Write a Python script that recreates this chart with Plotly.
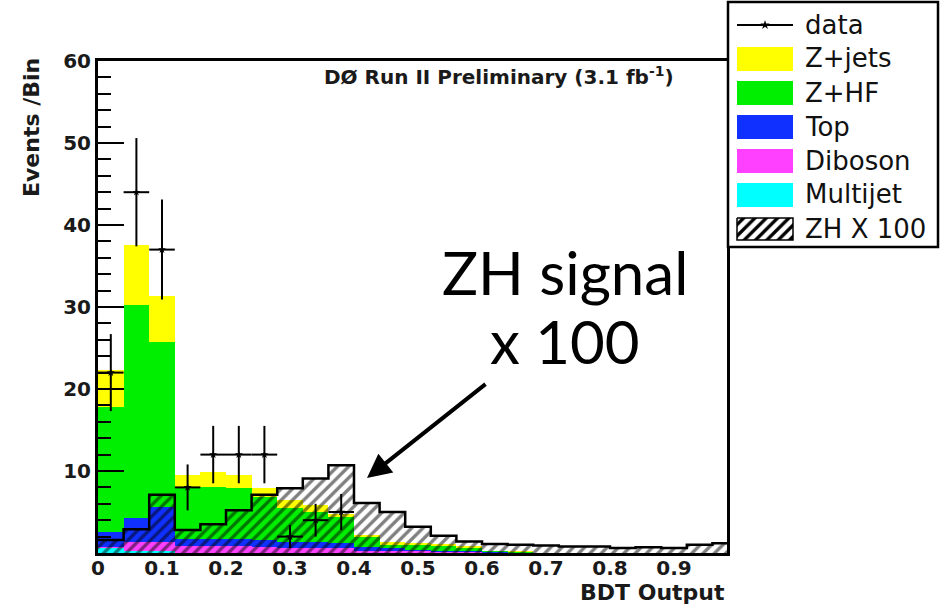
import numpy as np
import plotly.graph_objects as go

# ---------------- data ----------------
bin_edges = [0.00, 0.04, 0.08, 0.12, 0.16, 0.20, 0.24, 0.28, 0.32, 0.36, 0.40,
             0.44, 0.48, 0.52, 0.56, 0.60, 0.64, 0.68, 0.72, 0.76, 0.80,
             0.84, 0.88, 0.92, 0.96, 1.00]

multijet = [0.6, 0.3, 0.3, 0.05, 0.05, 0.05, 0.05, 0.05, 0.05, 0.05, 0, 0, 0,
            0, 0, 0, 0, 0, 0, 0, 0, 0, 0, 0, 0]
diboson = [0.1, 1.0, 1.0, 0.8, 0.8, 0.8, 0.7, 0.6, 0.6, 0.6, 0.3, 0.3, 0.2,
           0.1, 0.1, 0.05, 0, 0, 0, 0, 0, 0, 0, 0, 0]
top = [1.9, 3.0, 4.3, 0.8, 0.8, 0.8, 0.8, 0.7, 0.7, 0.6, 0.4, 0.3, 0.2,
       0.1, 0.1, 0.05, 0.05, 0, 0, 0, 0, 0, 0, 0, 0]
z_hf = [15.2, 25.9, 20.1, 6.45, 6.45, 6.25, 5.25, 4.15, 3.65, 3.15, 1.2, 0.4,
        0.6, 0.7, 0.4, 0.2, 0.1, 0.05, 0, 0, 0, 0, 0, 0, 0]
z_jets = [4.5, 7.4, 5.6, 1.4, 1.8, 1.6, 1.1, 1.0, 0.9, 0.4, 0.3, 0.4, 0.2,
          0.2, 0.2, 0.0, 0.05, 0, 0, 0, 0, 0, 0, 0, 0]
zh_x100 = [1.6, 2.9, 7.1, 2.8, 3.5, 5.2, 7.1, 7.9, 9.1, 10.7, 6.1, 5.0, 3.2,
           2.1, 1.4, 1.1, 1.0, 0.9, 0.8, 0.8, 0.6, 0.7, 0.6, 1.0, 1.2]
data_counts = [22, 44, 37, 8, 12, 12, 12, 2, 4, 5]
data_err = [4.7, 6.6, 6.1, 2.8, 3.5, 3.5, 3.5, 1.4, 2.0, 2.2]

x_tick_vals = [0, 0.1, 0.2, 0.3, 0.4, 0.5, 0.6, 0.7, 0.8, 0.9]
x_tick_text = ["0", "0.1", "0.2", "0.3", "0.4", "0.5", "0.6", "0.7", "0.8", "0.9"]
y_tick_vals = [0, 10, 20, 30, 40, 50, 60]
y_tick_text = ["", "10", "20", "30", "40", "50", "60"]
y_minor_vals = [2, 4, 6, 8, 12, 14, 16, 18, 22, 24, 26, 28, 32, 34, 36, 38,
                42, 44, 46, 48, 52, 54, 56, 58]

# ---------------- layout geometry ----------------
W, H = 944, 604
PL, PR, PT, PB = 98, 727, 61, 553
TICKFONT = dict(family="DejaVu Sans", size=20, color="#1a1a1a", weight="bold")

edges = np.array(bin_edges)
centers = (edges[:-1] + edges[1:]) / 2
widths = np.diff(edges)

fig = go.Figure()

components = [
    ("Multijet", multijet, "#00FFFF"),
    ("Diboson", diboson, "#FF40FF"),
    ("Top", top, "#1030FF"),
    ("Z+HF", z_hf, "#00EE00"),
    ("Z+jets", z_jets, "#FFFF00"),
]
base = np.zeros(len(centers))
for name, vals, col in components:
    v = np.array(vals, dtype=float)
    fig.add_trace(go.Bar(x=centers, y=v, base=base.copy(), width=widths,
                         marker=dict(color=col, line=dict(width=0)),
                         name=name, showlegend=False, xaxis="x", yaxis="y"))
    base += v

HATCH = dict(shape="/", fgcolor="black", size=8, solidity=0.42)

# signal x100 (hatched, transparent)
fig.add_trace(go.Bar(
    x=centers, y=zh_x100, width=widths, showlegend=False,
    marker=dict(color="rgba(0,0,0,0)", line=dict(width=0),
                pattern=dict(bgcolor="rgba(0,0,0,0)", fillmode="overlay", **HATCH)),
    xaxis="x", yaxis="y"))
fig.add_trace(go.Scatter(
    x=edges, y=list(zh_x100) + [zh_x100[-1]], mode="lines",
    line=dict(color="black", width=2.5, shape="hv"), showlegend=False,
    xaxis="x", yaxis="y"))

# data
nd = len(data_counts)
fig.add_trace(go.Scatter(
    x=centers[:nd], y=data_counts, mode="markers",
    marker=dict(symbol="star", size=6, color="black"),
    error_y=dict(type="data", array=data_err, thickness=2, width=0, color="black"),
    error_x=dict(type="data", array=widths[:nd] / 2, thickness=2, width=0, color="black"),
    showlegend=False, xaxis="x", yaxis="y"))

# ---------------- legend (pixel overlay axis) ----------------
LX0, LX1 = 737, 793
legend_rows = [
    ("Z+jets", "#FFFF00", 59),
    ("Z+HF", "#00EE00", 93),
    ("Top", "#1030FF", 127),
    ("Diboson", "#FF40FF", 161),
    ("Multijet", "#00FFFF", 195),
]
for name, col, yc in legend_rows:
    fig.add_trace(go.Scatter(
        x=[LX0, LX1, LX1, LX0, LX0], y=[yc - 12, yc - 12, yc + 12, yc + 12, yc - 12],
        mode="lines", fill="toself", fillcolor=col, line=dict(width=0, color=col),
        showlegend=False, hoverinfo="skip", xaxis="x2", yaxis="y2"))
yc = 229
fig.add_trace(go.Scatter(
    x=[LX0, LX1, LX1, LX0, LX0], y=[yc - 11, yc - 11, yc + 11, yc + 11, yc - 11],
    mode="lines", fill="toself", fillcolor="white",
    fillpattern=HATCH,
    line=dict(width=1.5, color="black"),
    showlegend=False, hoverinfo="skip", xaxis="x2", yaxis="y2"))
fig.add_trace(go.Scatter(
    x=[LX0, LX1], y=[25, 25], mode="lines", line=dict(color="black", width=2),
    showlegend=False, hoverinfo="skip", xaxis="x2", yaxis="y2"))
fig.add_trace(go.Scatter(
    x=[(LX0 + LX1) / 2], y=[25], mode="markers",
    marker=dict(symbol="star", size=7, color="black"),
    showlegend=False, hoverinfo="skip", xaxis="x2", yaxis="y2"))

legend_labels = [("data", 25), ("Z+jets", 58), ("Z+HF", 93), ("Top", 127),
                 ("Diboson", 161), ("Multijet", 194), ("ZH X 100", 229)]

annotations = []
for txt, yc in legend_labels:
    annotations.append(dict(x=803, y=yc, xref="x2", yref="y2", text=txt,
                            showarrow=False, xanchor="left", yanchor="middle",
                            font=dict(family="DejaVu Sans", size=26, color="#111")))

annotations += [
    dict(x=499, y=76, xref="x2", yref="y2",
         text="DØ Run II Preliminary (3.1 fb<sup>-1</sup>)", showarrow=False,
         xanchor="center", yanchor="middle",
         font=dict(family="DejaVu Sans", size=20, color="#1a1a1a", weight="bold")),
    dict(x=727, y=592, xref="x2", yref="y2", text="BDT Output", showarrow=False,
         xanchor="right", yanchor="middle",
         font=dict(family="DejaVu Sans", size=22, color="#1a1a1a", weight="bold")),
    dict(x=31, y=128, xref="x2", yref="y2", text="Events /Bin", showarrow=False,
         textangle=-90, xanchor="center", yanchor="middle",
         font=dict(family="DejaVu Sans", size=22, color="#1a1a1a", weight="bold")),
    dict(x=440, y=272, xref="x2", yref="y2", text="ZH signal", showarrow=False,
         xanchor="left", yanchor="middle",
         font=dict(family="Lato", size=60, color="black")),
    dict(x=488, y=341, xref="x2", yref="y2", text="x 100", showarrow=False,
         xanchor="left", yanchor="middle",
         font=dict(family="Lato", size=60, color="black")),
    dict(x=367, y=478, xref="x2", yref="y2", ax=487, ay=383, axref="x2", ayref="y2",
         text="", showarrow=True, arrowhead=2, arrowsize=1.2, arrowwidth=4,
         arrowcolor="black"),
]

shapes = [dict(type="rect", xref="x2", yref="y2", x0=728, x1=938, y0=2, y1=247,
               line=dict(color="black", width=2.5), fillcolor="white", layer="below")]

fig.update_layout(
    width=W, height=H, template="none",
    margin=dict(l=0, r=0, t=0, b=0, pad=0),
    paper_bgcolor="white", plot_bgcolor="rgba(0,0,0,0)",
    barmode="overlay", bargap=0, showlegend=False,
    xaxis=dict(domain=[PL / W, PR / W], range=[0, (PR - PL) / 640.0], anchor="y",
               showline=True, linewidth=3, linecolor="black", mirror=True,
               ticks="", ticklen=0, ticklabelstandoff=-5,
               tickmode="array", tickvals=x_tick_vals, ticktext=x_tick_text,
               tickfont=TICKFONT, showgrid=False, zeroline=False, fixedrange=True),
    yaxis=dict(domain=[1 - PB / H, 1 - PT / H], range=[0, 60], anchor="x",
               showline=True, linewidth=3, linecolor="black", mirror=True,
               ticks="inside", ticklen=26, tickwidth=2, tickcolor="black",
               tickmode="array", tickvals=y_tick_vals, ticktext=y_tick_text,
               tickfont=TICKFONT,
               minor=dict(tickmode="array", tickvals=y_minor_vals, ticks="inside",
                          ticklen=13, tickwidth=2, tickcolor="black", showgrid=False),
               showgrid=False, zeroline=False, fixedrange=True),
    xaxis2=dict(domain=[0, 1], range=[0, W], anchor="y2", visible=False, fixedrange=True),
    yaxis2=dict(domain=[0, 1], range=[H, 0], anchor="x2", visible=False, fixedrange=True),
    annotations=annotations, shapes=shapes,
)

fig.write_html("out.html",
               config={"displayModeBar": False, "staticPlot": True},
               post_script="document.body.style.margin='0px';"
                           "document.body.style.overflow='hidden';")
